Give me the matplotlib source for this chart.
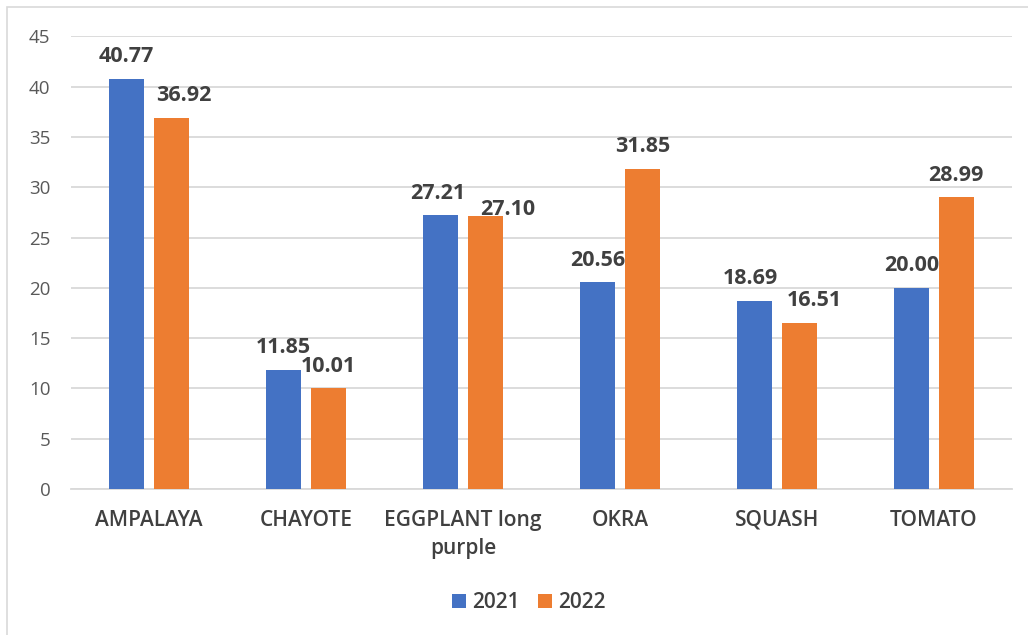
import numpy as np
import matplotlib.pyplot as plt
from matplotlib.patches import Rectangle

categories = ['AMPALAYA', 'CHAYOTE', 'EGGPLANT long\npurple', 'OKRA', 'SQUASH', 'TOMATO']
vals_2021 = [40.77, 11.85, 27.21, 20.56, 18.69, 20.00]
vals_2022 = [36.92, 10.01, 27.10, 31.85, 16.51, 28.99]

blue = '#4472C4'
orange = '#ED7D31'

fig = plt.figure(figsize=(10.28, 6.35), dpi=100)
ax = fig.add_axes([70.5 / 1028, 0.2299, 942 / 1028, 0.7128])

# chart frame (light grey border, cut at right/bottom)
fig.patches.append(Rectangle((7 / 1028, -0.01), 1.02, 1 - 7 / 635 + 0.01,
                             transform=fig.transFigure, fill=False,
                             edgecolor='#D9D9D9', linewidth=1.2))

x = np.arange(len(categories))
w = 0.223
off = 0.142
b1 = ax.bar(x - off, vals_2021, w, color=blue, label='2021', zorder=3)
b2 = ax.bar(x + off, vals_2022, w, color=orange, label='2022', zorder=3)

# label nudges (points) where the labels were pushed aside to avoid overlap
nudge = {(0, 1): (9, 0), (2, 0): (-2, 0), (2, 1): (16, -11),
         (4, 0): (-3, 0), (4, 1): (11, 0)}

for j, vals in enumerate([vals_2021, vals_2022]):
    sign = -1 if j == 0 else 1
    for i, v in enumerate(vals):
        dx, dy = nudge.get((i, j), (0, 0))
        ax.annotate('%.2f' % v, (x[i] + sign * off, v), xytext=(dx, 12 + dy),
                    textcoords='offset points', ha='center', va='baseline',
                    fontsize=15.5, fontweight='bold', color='#404040',
                    family='Open Sans', zorder=4)

ax.set_xlim(-0.5, len(categories) - 0.5)
ax.set_ylim(0, 45)
ax.set_yticks(range(0, 50, 5))
ax.set_xticks(x)
ax.set_xticklabels(categories, fontsize=15, color='#404040', family='Open Sans',
                   fontweight='semibold', linespacing=1.45)
ax.tick_params(axis='y', labelsize=13.5, labelcolor='#595959', length=0, pad=14.5)
ax.tick_params(axis='x', length=0, pad=15)
for lbl in ax.get_yticklabels():
    lbl.set_family('Open Sans')
ax.yaxis.grid(True, color='#D9D9D9', linewidth=1.3, zorder=0)
for s in ['top', 'right', 'left']:
    ax.spines[s].set_visible(False)
ax.spines['bottom'].set_color('#D9D9D9')
ax.spines['bottom'].set_linewidth(1.3)

fig.legend(handles=[b1, b2], labels=['2021', '2022'], loc='center',
           bbox_to_anchor=(0.5146, 0.0504), ncol=2, frameon=False,
           prop={'family': 'Open Sans', 'size': 15, 'weight': 'semibold'},
           handlelength=0.67, handleheight=0.67, columnspacing=0.87,
           handletextpad=0.29, labelcolor='#404040')

fig.savefig('out.png', dpi=100)
